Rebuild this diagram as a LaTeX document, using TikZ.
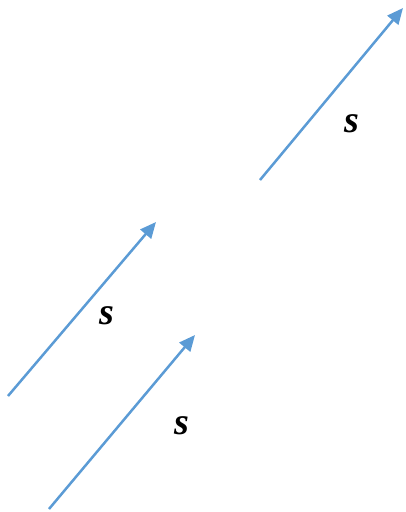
\documentclass[tikz,border=0pt]{standalone}
\usepackage{fontspec}
\setmainfont{Liberation Serif}
\usetikzlibrary{arrows.meta}
\begin{document}
\begin{tikzpicture}[x=1pt,y=-1pt,
  vec/.style={draw={rgb,255:red,91;green,155;blue,213},line width=2.5pt,-{Triangle[length=16pt,width=14pt]}},
  lab/.style={font=\fontsize{38}{38}\selectfont\bfseries\itshape}]
\useasboundingbox (0,0) rectangle (406,512);
\coordinate (a1) at (260,180);
\coordinate (b1) at (403,8);
\coordinate (a2) at (8,396);
\coordinate (b2) at (156,222);
\coordinate (a3) at (49,509);
\coordinate (b3) at (195,335);
\draw[vec] (a1) -- (b1);
\draw[vec] (a2) -- (b2);
\draw[vec] (a3) -- (b3);
\node[lab] (s1) at (352,124) {s};
\node[lab] (s2) at (107,316) {s};
\node[lab] (s3) at (182,426) {s};
\end{tikzpicture}
\end{document}
